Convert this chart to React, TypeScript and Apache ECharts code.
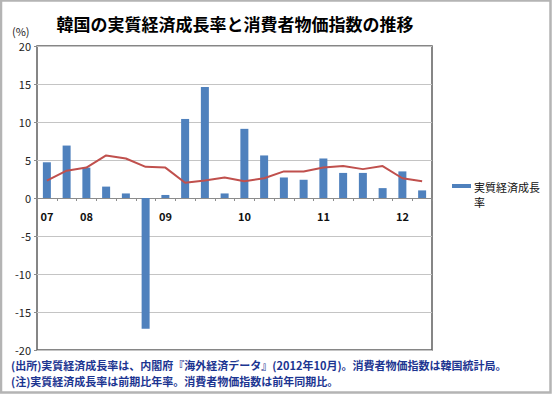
import React, { useEffect, useRef } from "react";
import * as echarts from "echarts";

const title = "韓国の実質経済成長率と消費者物価指数の推移";
const unitLabel = "(%)";
const quarters = [
  "07Q3", "07Q4", "08Q1", "08Q2", "08Q3", "08Q4", "09Q1", "09Q2", "09Q3", "09Q4",
  "10Q1", "10Q2", "10Q3", "10Q4", "11Q1", "11Q2", "11Q3", "11Q4", "12Q1", "12Q2",
];
const xTickLabels = [
  "07", "", "08", "", "", "", "09", "", "", "",
  "10", "", "", "", "11", "", "", "", "12", "",
];
const gdpName = "実質経済成長率";
const gdpValues = [4.7, 6.9, 4.0, 1.5, 0.6, -17.2, 0.4, 10.4, 14.6, 0.6, 9.1, 5.6, 2.7, 2.4, 5.2, 3.3, 3.3, 1.3, 3.5, 1.0];
const cpiName = "消費者物価指数";
const cpiValues = [2.3, 3.6, 4.0, 5.6, 5.2, 4.1, 4.0, 2.0, 2.3, 2.7, 2.2, 2.6, 3.5, 3.5, 4.0, 4.2, 3.8, 4.2, 2.6, 2.2];
const yMin = -20;
const yMax = 20;
const yInterval = 5;
const footnotes = [
  "(出所)実質経済成長率は、内閣府『海外経済データ』(2012年10月)。消費者物価指数は韓国統計局。",
  "(注)実質経済成長率は前期比年率。消費者物価指数は前年同期比。",
];

const FONT = "'Noto Sans CJK JP', 'Noto Sans', sans-serif";

export default function App() {
  const ref = useRef<HTMLDivElement>(null);
  useEffect(() => {
    if (!ref.current) return;
    const chart = echarts.init(ref.current, null, { renderer: "svg" });
    const gridTop = 46;
    const gridBottom = 47;
    const plotH = 397 - gridTop - gridBottom;
    const zeroOffset = -plotH * (0 - yMin) / (yMax - yMin);
    chart.setOption({
      animation: false,
      backgroundColor: "#ffffff",
      textStyle: { fontFamily: FONT },
      grid: {
        left: 37,
        right: 120,
        top: gridTop,
        bottom: gridBottom,
        show: true,
        borderColor: "#5f5f5f",
        borderWidth: 1.5,
        backgroundColor: "transparent",
      },
      xAxis: [
        {
          type: "category",
          data: quarters,
          boundaryGap: true,
          axisLine: { onZero: true, lineStyle: { color: "#8c8c8c", width: 1 } },
          axisTick: { show: true, interval: 0, length: 3, lineStyle: { color: "#8c8c8c" } },
          axisLabel: { show: false },
          splitLine: { show: false },
        },
        {
          type: "category",
          data: quarters,
          position: "bottom",
          offset: zeroOffset,
          boundaryGap: true,
          axisLine: { show: false, onZero: false },
          axisTick: { show: false },
          axisLabel: {
            interval: 0,
            margin: 12,
            fontSize: 11,
            fontWeight: "bold",
            color: "#111",
            fontFamily: FONT,
            formatter: (_v: string, i: number) => xTickLabels[i],
          },
          splitLine: { show: false },
        },
      ],
      yAxis: {
        type: "value",
        min: yMin,
        max: yMax,
        interval: yInterval,
        axisLine: { show: false },
        axisTick: { show: true, length: 3, lineStyle: { color: "#8c8c8c" } },
        axisLabel: { fontSize: 11, color: "#222", margin: 6, fontFamily: FONT },
        splitLine: { lineStyle: { color: "#c4c4c4", width: 1 } },
      },
      series: [
        {
          name: gdpName,
          type: "bar",
          data: gdpValues,
          xAxisIndex: 0,
          barWidth: 8,
          itemStyle: { color: "#4f81bd" },
          z: 2,
        },
        {
          name: cpiName,
          type: "line",
          data: cpiValues,
          xAxisIndex: 0,
          symbol: "none",
          lineStyle: { color: "#c0504d", width: 2 },
          itemStyle: { color: "#c0504d" },
          z: 3,
        },
      ],
      graphic: [
        {
          type: "rect",
          shape: { x: 1, y: 0.5, width: 549.5, height: 392 },
          style: { fill: "none", stroke: "#b4b4b4", lineWidth: 2.5 },
          silent: true,
        },
        {
          type: "text",
          x: 235,
          y: 23,
          style: {
            text: title,
            fontSize: 17,
            fontWeight: "bold",
            fill: "#000",
            fontFamily: FONT,
            align: "center",
            verticalAlign: "middle",
          },
        },
        {
          type: "text",
          x: 12,
          y: 31,
          style: {
            text: unitLabel,
            fontSize: 11,
            lineHeight: 11,
            fill: "#222",
            fontFamily: FONT,
            verticalAlign: "middle",
          },
        },
        {
          type: "rect",
          shape: { x: 452, y: 184, width: 19, height: 4 },
          style: { fill: "#4f81bd" },
        },
        {
          type: "text",
          x: 474,
          y: 179,
          style: {
            text: "実質経済成長\n率",
            fontSize: 11,
            lineHeight: 15,
            fill: "#111",
            fontFamily: FONT,
            verticalAlign: "top",
          },
        },
        {
          type: "text",
          x: 11,
          y: 365,
          style: {
            text: footnotes[0],
            fontSize: 11,
            lineHeight: 12,
            fontWeight: "bold",
            fill: "#1c3591",
            fontFamily: FONT,
            verticalAlign: "middle",
          },
        },
        {
          type: "text",
          x: 11,
          y: 381,
          style: {
            text: footnotes[1],
            fontSize: 11,
            lineHeight: 12,
            fontWeight: "bold",
            fill: "#1c3591",
            fontFamily: FONT,
            verticalAlign: "middle",
          },
        },
      ],
    });
    return () => chart.dispose();
  }, []);
  return (
    <div
      ref={ref}
      style={{ position: "fixed", left: 0, top: 0, width: 552, height: 397, background: "#fff" }}
    />
  );
}
